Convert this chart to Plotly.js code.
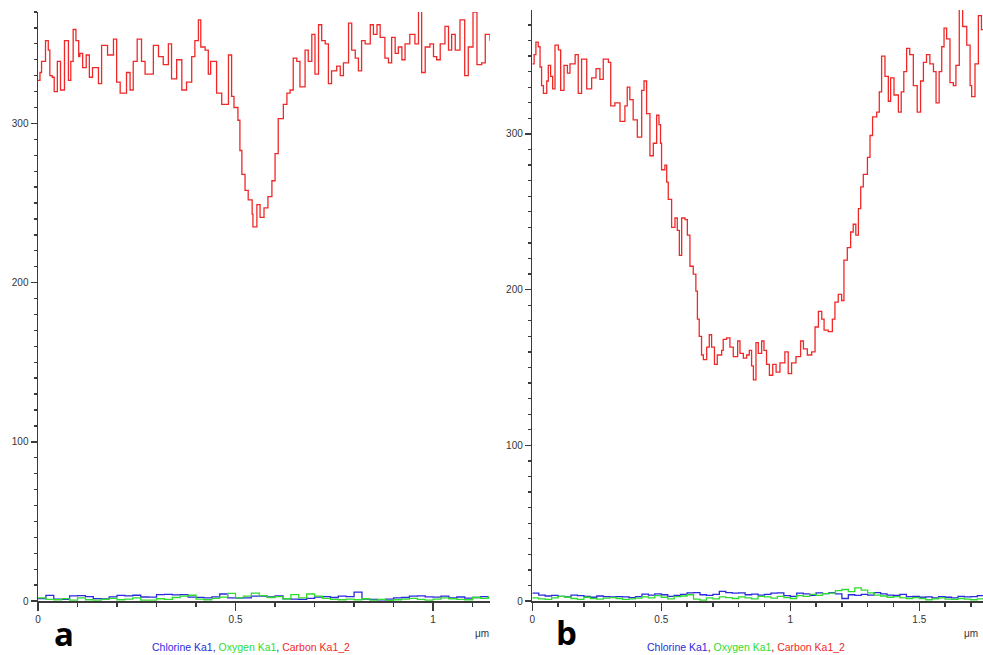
<!DOCTYPE html>
<html>
<head>
<meta charset="utf-8">
<script src="https://cdn.plot.ly/plotly-3.0.1.min.js"></script>
<style>html,body{margin:0;padding:0;background:#fff;}#chart{width:983px;height:655px;}</style>
</head>
<body>
<div id="chart"></div>
<script>
// ---------- Panel a data ----------
const aCarbonX = [0.000,0.005,0.009,0.019,0.026,0.030,0.036,0.041,0.049,0.057,0.067,0.077,0.083,0.089,0.096,0.103,0.106,0.113,0.122,0.130,0.138,0.153,0.161,0.176,0.191,0.199,0.208,0.224,0.233,0.241,0.251,0.262,0.271,0.292,0.305,0.317,0.330,0.338,0.351,0.364,0.376,0.389,0.397,0.406,0.412,0.423,0.431,0.437,0.452,0.465,0.482,0.490,0.496,0.506,0.511,0.516,0.524,0.532,0.542,0.544,0.554,0.562,0.572,0.582,0.592,0.600,0.608,0.621,0.630,0.638,0.646,0.655,0.663,0.676,0.684,0.693,0.701,0.710,0.718,0.727,0.735,0.743,0.756,0.765,0.773,0.786,0.794,0.803,0.811,0.819,0.828,0.841,0.849,0.858,0.866,0.878,0.887,0.895,0.904,0.912,0.921,0.929,0.941,0.954,0.963,0.971,0.980,0.992,1.001,1.009,1.018,1.030,1.039,1.047,1.056,1.068,1.080,1.089,1.101,1.111,1.123,1.132,1.144];
const aCarbonY = [327,332,339,352,346,330,329,320,339,321,352,327,339,359,352,342,344,335,343,329,335,325,349,343,353,326,319,332,321,339,353,339,331,349,342,337,350,328,340,321,326,342,352,365,348,346,331,339,319,312,343,317,310,302,283,268,258,252,243,235,249,241,247,254,264,281,303,312,319,321,341,339,323,346,339,356,331,362,352,350,325,333,336,330,338,363,346,341,333,352,350,362,356,362,354,341,338,354,344,348,340,350,356,350,371,332,348,350,342,340,350,361,346,356,346,365,330,348,370,337,338,356,352];
const aLowX = [0.00,0.02,0.04,0.06,0.08,0.10,0.12,0.14,0.16,0.18,0.20,0.22,0.24,0.26,0.28,0.30,0.32,0.34,0.36,0.38,0.40,0.42,0.44,0.46,0.48,0.50,0.52,0.54,0.56,0.58,0.60,0.62,0.64,0.66,0.68,0.70,0.72,0.74,0.76,0.78,0.80,0.82,0.84,0.86,0.88,0.90,0.92,0.94,0.96,0.98,1.00,1.02,1.04,1.06,1.08,1.10,1.12,1.14];
const aChlorineY = [1.5,3.5,1.2,1.0,3.2,3.4,2.8,1.5,1.3,2.6,3.5,3.2,3.6,2.5,2.4,4.0,4.2,3.8,4.0,2.4,2.3,2.0,2.6,4.4,2.0,1.8,2.0,3.0,3.0,2.6,3.2,1.4,1.2,1.0,1.6,2.4,2.8,2.2,3.0,2.8,5.6,1.2,1.0,0.8,1.2,2.0,2.2,3.0,3.2,2.6,2.4,3.0,2.0,2.5,1.8,2.2,2.8,2.0];
const aOxygenY = [2.0,1.0,0.8,1.5,0.6,2.0,0.8,0.5,1.0,1.6,0.8,1.2,2.0,0.6,0.5,1.4,1.0,2.2,3.0,3.6,1.2,0.8,1.6,2.4,4.8,2.0,3.0,5.0,3.4,2.2,2.8,1.4,4.0,2.0,4.4,3.0,1.6,1.0,0.8,1.2,0.8,1.4,0.6,1.0,0.4,0.8,1.2,1.6,1.0,0.6,1.2,2.0,1.4,1.0,0.8,2.2,1.6,3.2];

// ---------- Panel b data ----------
const bCarbonX = [0.000,0.007,0.014,0.023,0.030,0.036,0.043,0.056,0.062,0.071,0.079,0.088,0.101,0.110,0.123,0.136,0.146,0.166,0.178,0.191,0.211,0.230,0.247,0.262,0.275,0.295,0.304,0.320,0.340,0.359,0.368,0.378,0.391,0.407,0.424,0.433,0.443,0.456,0.469,0.482,0.491,0.497,0.501,0.514,0.521,0.527,0.540,0.553,0.562,0.570,0.579,0.592,0.601,0.611,0.624,0.634,0.640,0.647,0.656,0.663,0.676,0.686,0.695,0.706,0.717,0.734,0.740,0.753,0.766,0.779,0.796,0.805,0.818,0.831,0.841,0.850,0.857,0.867,0.876,0.889,0.898,0.908,0.919,0.932,0.945,0.960,0.979,0.992,1.005,1.022,1.040,1.051,1.066,1.083,1.096,1.109,1.122,1.131,1.147,1.163,1.173,1.186,1.199,1.208,1.221,1.234,1.244,1.254,1.264,1.273,1.283,1.299,1.309,1.319,1.335,1.345,1.354,1.367,1.380,1.389,1.402,1.419,1.430,1.440,1.451,1.463,1.477,1.492,1.505,1.516,1.528,1.541,1.555,1.565,1.577,1.587,1.596,1.606,1.619,1.632,1.642,1.655,1.668,1.684,1.697,1.703,1.716,1.729,1.741,1.750];
const bCarbonY = [345,351,359,356,343,331,326,334,344,337,329,357,354,328,344,339,345,351,326,348,329,336,342,335,348,346,318,320,308,318,330,322,309,298,328,334,313,286,294,312,306,294,277,280,269,258,240,246,238,222,246,245,235,215,210,199,181,170,158,155,163,171,163,152,158,161,168,169,163,157,167,159,156,158,161,151,142,166,159,167,161,152,145,152,147,153,160,146,153,157,167,162,158,160,176,186,181,174,173,181,192,197,193,219,227,237,242,235,252,266,274,285,299,311,314,327,350,337,321,336,325,314,327,340,355,351,331,314,334,346,351,345,340,320,340,356,368,361,333,331,344,380,369,357,331,324,345,376,367,365];
const bLowX = [0.000,0.025,0.050,0.075,0.100,0.125,0.150,0.175,0.200,0.225,0.250,0.275,0.300,0.325,0.350,0.375,0.400,0.425,0.450,0.475,0.500,0.525,0.550,0.575,0.600,0.625,0.650,0.675,0.700,0.725,0.750,0.775,0.800,0.825,0.850,0.875,0.900,0.925,0.950,0.975,1.000,1.025,1.050,1.075,1.100,1.125,1.150,1.175,1.200,1.225,1.250,1.275,1.300,1.325,1.350,1.375,1.400,1.425,1.450,1.475,1.500,1.525,1.550,1.575,1.600,1.625,1.650,1.675,1.700,1.725,1.750];
const bChlorineY = [5.0,3.8,3.2,3.6,3.0,2.6,3.8,3.4,3.0,2.4,3.2,2.8,2.6,2.8,2.6,2.2,2.8,4.4,3.8,4.6,4.0,3.0,3.6,4.2,5.2,5.4,4.0,3.6,4.2,6.2,5.4,5.0,5.2,4.0,4.4,3.8,4.2,5.0,5.2,3.4,3.0,5.0,4.6,3.6,5.2,4.8,5.4,4.6,1.6,4.0,3.6,4.2,3.8,5.4,4.6,3.8,3.6,4.2,2.8,3.0,2.4,2.6,2.0,2.8,2.4,2.0,3.0,2.6,2.8,3.4,4.6];
const bOxygenY = [2.0,1.4,1.0,2.0,3.0,2.4,1.6,1.0,2.4,1.6,1.2,1.8,2.2,1.6,1.0,1.4,1.8,2.6,2.0,3.4,2.4,1.4,2.8,3.2,4.0,1.2,0.6,2.0,1.4,2.6,2.2,1.6,2.6,2.0,1.4,3.0,2.6,1.8,3.0,2.2,1.6,3.4,3.0,4.2,3.6,4.8,5.0,6.6,7.4,6.0,8.4,7.0,5.2,3.8,3.2,2.4,2.8,2.0,1.6,2.2,1.6,0.8,1.4,2.0,1.2,1.0,1.6,1.2,0.8,1.4,1.0];

const seriesNames = ['Chlorine Ka1', 'Oxygen Ka1', 'Carbon Ka1_2'];
const seriesColors = ['#2b2bdc', '#2fdc2f', '#f02828'];
const panelLabels = ['a', 'b'];

const W = 983, H = 655;
function px(x) { return x / W; }
function py(y) { return (H - y) / H; }

function line(x, y, i, xa, ya) {
  return { x: x, y: y, type: 'scatter', mode: 'lines', name: seriesNames[i],
    line: { color: seriesColors[i], width: 1.3, shape: 'hv' },
    xaxis: xa, yaxis: ya, hoverinfo: 'skip', showlegend: false };
}

const data = [
  line(aLowX, aChlorineY, 0, 'x', 'y'),
  line(aLowX, aOxygenY, 1, 'x', 'y'),
  line(aCarbonX, aCarbonY, 2, 'x', 'y'),
  line(bLowX, bChlorineY, 0, 'x2', 'y2'),
  line(bLowX, bOxygenY, 1, 'x2', 'y2'),
  line(bCarbonX, bCarbonY, 2, 'x2', 'y2')
];

const axCol = '#3a3a3a';
const tickFont = { family: 'Liberation Sans, Arial, sans-serif', size: 10, color: '#333' };
function xAxis(domain, range) {
  return { domain: domain, range: range, showline: true, linecolor: axCol, linewidth: 1.5,
    ticks: 'outside', ticklen: 8, tickwidth: 1.5, tickcolor: axCol, tick0: 0, dtick: 0.5,
    minor: { ticks: 'outside', ticklen: 4, tickwidth: 1.3, tickcolor: axCol, tick0: 0, dtick: 0.1 },
    showgrid: false, zeroline: false, tickfont: tickFont, fixedrange: true };
}
function yAxis(domain, range, anchor) {
  return { domain: domain, range: range, anchor: anchor, showline: true, linecolor: axCol, linewidth: 1.5,
    ticks: 'outside', ticklen: 6, tickwidth: 1.5, tickcolor: axCol, tick0: 0, dtick: 100,
    minor: { ticks: 'outside', ticklen: 3, tickwidth: 1.3, tickcolor: axCol, tick0: 0, dtick: 10 },
    showgrid: false, zeroline: false, tickfont: tickFont, fixedrange: true };
}

const legendText = '<span style="color:' + seriesColors[0] + '">' + seriesNames[0] + '</span>, ' +
  '<span style="color:' + seriesColors[1] + '">' + seriesNames[1] + '</span>, ' +
  '<span style="color:' + seriesColors[2] + '">' + seriesNames[2] + '</span>';

const smallFont = { family: 'Liberation Sans, Arial, sans-serif', size: 10, color: '#333' };
const legFont = { family: 'Liberation Sans, Arial, sans-serif', size: 10.5, color: '#333' };
const bigFont = { family: 'Open Sans, sans-serif', size: 33, color: '#000', weight: 'bold' };

function ann(x, y, text, font, xanchor) {
  return { xref: 'paper', yref: 'paper', x: px(x), y: py(y), text: text, showarrow: false,
    font: font, xanchor: xanchor || 'center', yanchor: 'middle' };
}

const layout = {
  width: W, height: H,
  margin: { l: 0, r: 0, t: 0, b: 0 },
  paper_bgcolor: '#fff', plot_bgcolor: 'rgba(0,0,0,0)',
  showlegend: false,
  xaxis: Object.assign(xAxis([px(38), px(490)], [0, 1.144]), { anchor: 'y' }),
  yaxis: yAxis([py(601), py(12)], [0, 370], 'x'),
  xaxis2: Object.assign(xAxis([px(532.3), 1], [0, 1.747]), { anchor: 'y2' }),
  yaxis2: yAxis([py(601), py(10)], [0, 379.6], 'x2'),
  annotations: [
    ann(482, 633, 'μm', smallFont),
    ann(962, 633, 'μm', smallFont, 'left'),
    ann(251, 647, legendText, legFont),
    ann(746, 647, legendText, legFont),
    ann(64, 633, '<b>' + panelLabels[0] + '</b>', bigFont),
    ann(566, 632, '<b>' + panelLabels[1] + '</b>', bigFont)
  ]
};

Plotly.newPlot('chart', data, layout, { staticPlot: true, displayModeBar: false });
</script>
</body>
</html>
